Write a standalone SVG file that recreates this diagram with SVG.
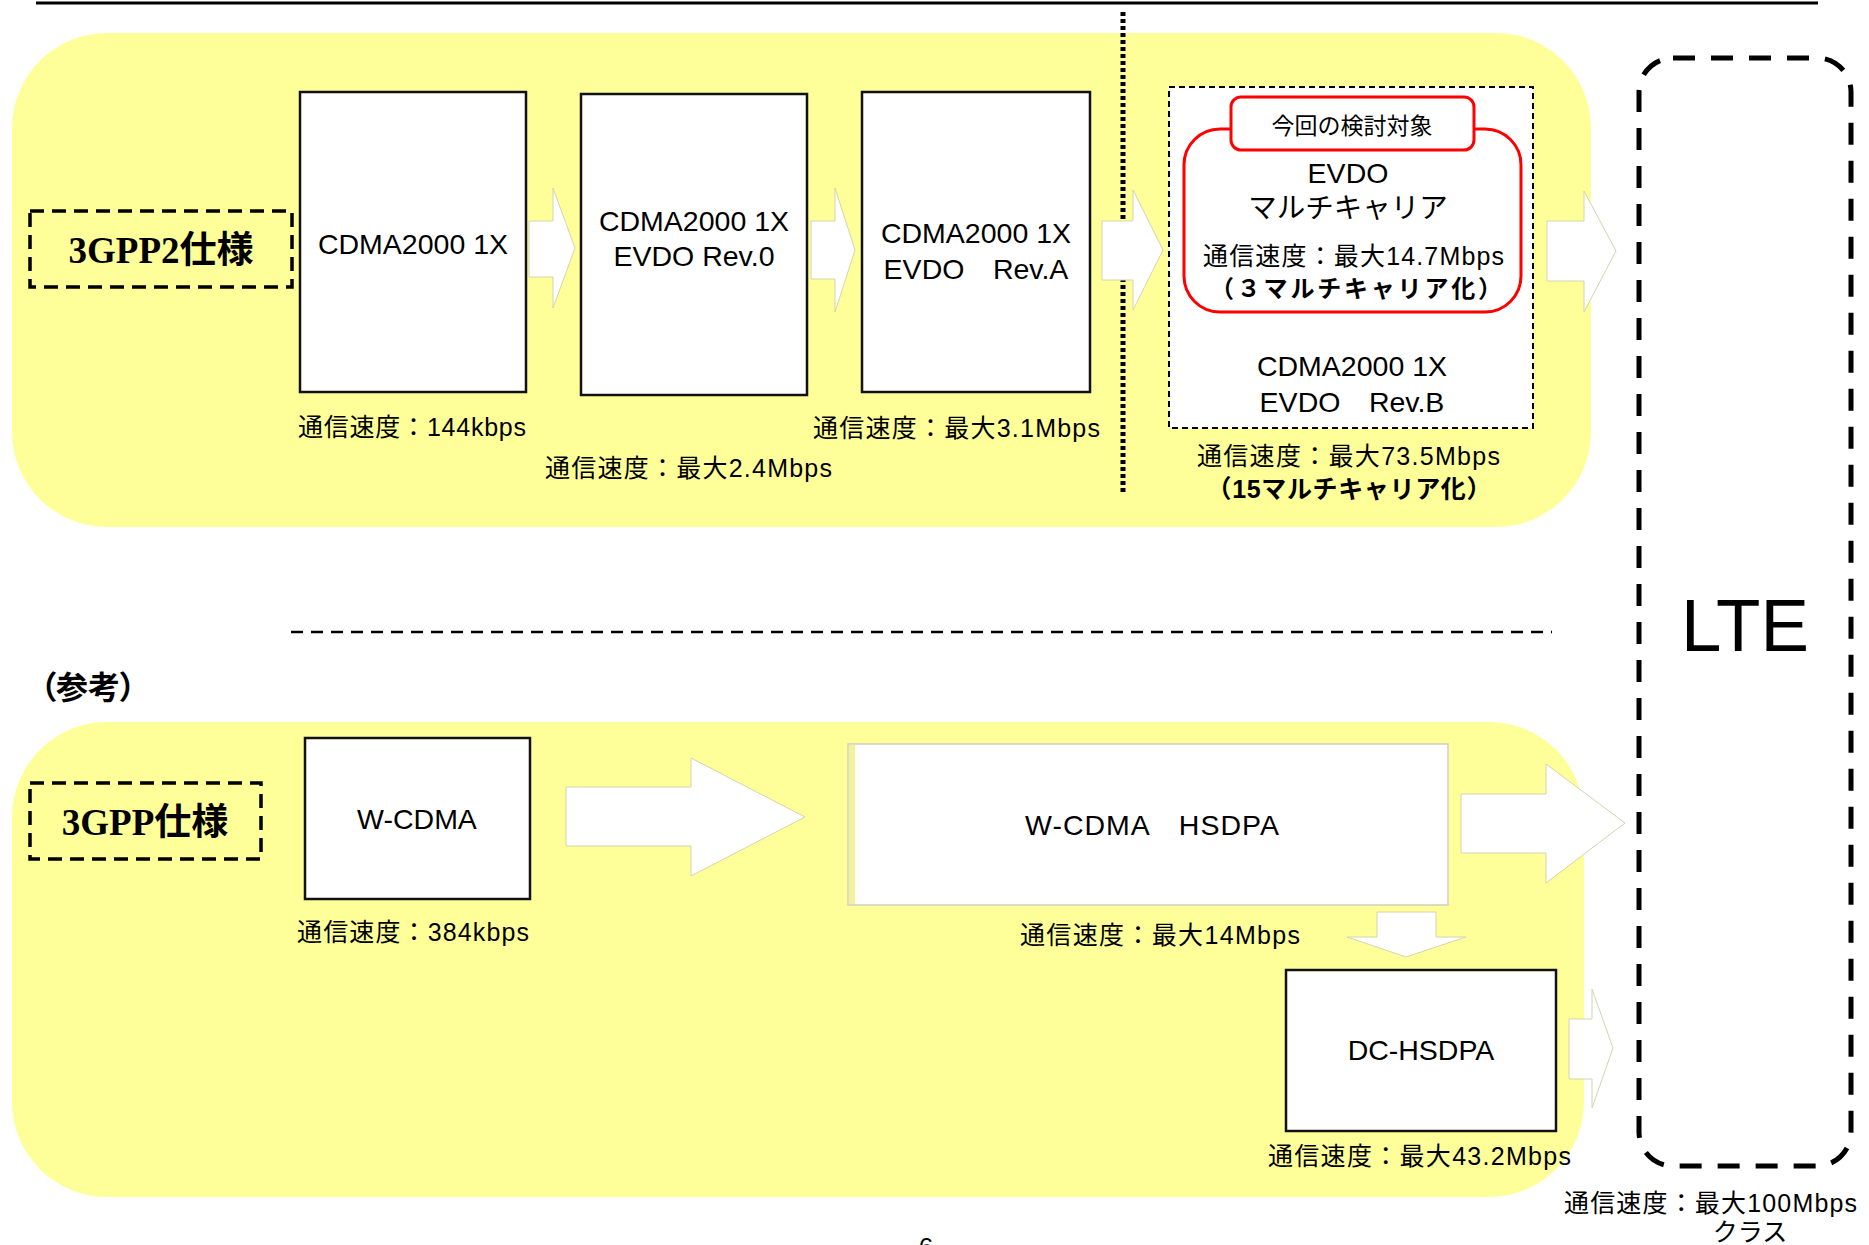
<svg xmlns="http://www.w3.org/2000/svg" width="1869" height="1245" viewBox="0 0 1869 1245">
<defs>
<style>
.bg{fill:#FFFF99;stroke:none}
.box{fill:#fff;stroke:#111;stroke-width:2.5}
.arrow{fill:#fff;stroke:#d4d4b0;stroke-width:1}
.t{font-family:"Liberation Sans","Noto Sans CJK JP",sans-serif;fill:#000}
.bx{font-size:28.5px;text-anchor:middle}
.lb{font-size:25px}
.spec{font-family:"Liberation Serif","Noto Sans CJK JP",serif;font-weight:bold;font-size:37px;text-anchor:middle}
.dashbox{fill:none;stroke:#000;stroke-width:3.5;stroke-dasharray:14 8}
.palt{font-feature-settings:"palt" 1}
</style>
</defs>
<rect width="1869" height="1245" fill="#fff"/>
<line x1="36" y1="3" x2="1818" y2="3" stroke="#000" stroke-width="3"/>

<g id="band-3gpp2">
<rect class="bg" x="12" y="33" width="1579" height="494" rx="95"/>
</g>
<g id="band-3gpp">
<rect class="bg" x="12" y="722" width="1572" height="475" rx="95"/>
</g>

<line id="divider-vertical" x1="1123" y1="12" x2="1123" y2="492" stroke="#000" stroke-width="5" stroke-dasharray="4 3"/>
<line id="divider-horizontal" x1="291" y1="632" x2="1552" y2="632" stroke="#000" stroke-width="2.5" stroke-dasharray="12 8"/>

<g id="label-3gpp2">
<rect class="dashbox" x="30" y="211" width="262" height="76"/>
<text class="spec" x="161" y="263">3GPP2仕様</text>
</g>
<g id="label-3gpp">
<rect class="dashbox" x="30" y="783" width="231" height="76"/>
<text class="spec" x="145" y="835">3GPP仕様</text>
</g>
<text id="ref-label" class="t palt" x="40" y="699" font-size="32" font-weight="bold">（参考）</text>

<g id="connectors">
<polygon class="arrow" points="529,221 553,221 553,188 575,248 553,308 553,277 529,277"/>
<polygon class="arrow" points="811,221 835,221 835,188 855,250 835,312 835,279 811,279"/>
<polygon class="arrow" points="1102,221 1133,221 1133,190 1163,250 1133,310 1133,280 1102,280"/>
<polygon class="arrow" points="1547,221 1584,221 1584,191 1616,251 1584,312 1584,281 1547,281"/>
<polygon class="arrow" points="566,787 691,787 691,758 805,817 691,876 691,846 566,846"/>
<polygon class="arrow" points="1461,794 1546,794 1546,764 1625,823 1546,883 1546,853 1461,853"/>
<polygon class="arrow" points="1377,912 1436,912 1436,937 1466,937 1406,957 1347,937 1377,937"/>
<polygon class="arrow" points="1569,1019 1592,1019 1592,989 1613,1048 1592,1108 1592,1079 1569,1079"/>
</g>

<g id="node-cdma1x">
<rect class="box" x="300" y="92" width="226" height="300"/>
<text class="t bx" x="413" y="254">CDMA2000 1X</text>
</g>
<text class="t lb" x="298" y="436" textLength="228">通信速度：144kbps</text>

<g id="node-evdo-rev0">
<rect class="box" x="581" y="94" width="226" height="301"/>
<text class="t bx" x="694" y="231">CDMA2000 1X</text>
<text class="t bx" x="694" y="266">EVDO Rev.0</text>
</g>
<text class="t lb" x="545" y="477" textLength="287">通信速度：最大2.4Mbps</text>

<g id="node-evdo-reva">
<rect class="box" x="862" y="92" width="228" height="300"/>
<text class="t bx" x="976" y="243">CDMA2000 1X</text>
<text class="t bx" x="976" y="279">EVDO　Rev.A</text>
</g>
<text class="t lb" x="813" y="437" textLength="287">通信速度：最大3.1Mbps</text>

<g id="node-evdo-revb">
<rect x="1169" y="87" width="364" height="341" fill="#fff" stroke="#000" stroke-width="2" stroke-dasharray="6 4"/>
<text class="t bx" x="1352" y="376">CDMA2000 1X</text>
<text class="t bx" x="1352" y="412">EVDO　Rev.B</text>
</g>
<text class="t lb" x="1197" y="465" textLength="303">通信速度：最大73.5Mbps</text>
<text class="t" x="1349" y="498" font-size="25" font-weight="bold" text-anchor="middle" textLength="285">（15マルチキャリア化）</text>

<g id="node-evdo-multicarrier">
<rect x="1184" y="129" width="337" height="183" rx="36" fill="#fff" stroke="#f00" stroke-width="3"/>
<rect x="1231" y="97" width="243" height="53" rx="10" fill="#fff" stroke="#f00" stroke-width="3"/>
<text class="t" x="1352" y="134" font-size="23" text-anchor="middle">今回の検討対象</text>
<text class="t bx" x="1348" y="183">EVDO</text>
<text class="t bx" x="1348" y="218">マルチキャリア</text>
<text class="t lb" x="1203" y="265" textLength="301">通信速度：最大14.7Mbps</text>
<text class="t" x="1356" y="297" font-size="24" font-weight="bold" text-anchor="middle" textLength="292">（３マルチキャリア化）</text>
</g>

<g id="node-wcdma">
<rect class="box" x="305" y="738" width="225" height="161"/>
<text class="t bx" x="417" y="829">W-CDMA</text>
</g>
<text class="t lb" x="297" y="941" textLength="232">通信速度：384kbps</text>

<g id="node-hsdpa">
<rect x="848" y="744" width="600" height="161" fill="#fff" stroke="#cfcfc0" stroke-width="1.5"/>
<rect x="849" y="745" width="6" height="159" fill="#f2f29a"/>
<text class="t bx" x="1152" y="835" textLength="254">W-CDMA　HSDPA</text>
</g>
<text class="t lb" x="1020" y="944" textLength="280">通信速度：最大14Mbps</text>

<g id="node-dc-hsdpa">
<rect class="box" x="1286" y="970" width="270" height="161"/>
<text class="t bx" x="1421" y="1060">DC-HSDPA</text>
</g>
<text class="t lb" x="1268" y="1165" textLength="303">通信速度：最大43.2Mbps</text>

<g id="node-lte">
<rect x="1639" y="58" width="212" height="1108" rx="34" fill="none" stroke="#000" stroke-width="5" stroke-dasharray="22 16"/>
<text class="t" x="1745" y="651" font-size="74" text-anchor="middle" textLength="128" lengthAdjust="spacingAndGlyphs">LTE</text>
</g>
<text class="t lb" x="1564" y="1212" textLength="293">通信速度：最大100Mbps</text>
<text class="t lb" x="1750" y="1241" text-anchor="middle">クラス</text>

<text class="t" x="926" y="1256" font-size="26" text-anchor="middle">6</text>
</svg>
